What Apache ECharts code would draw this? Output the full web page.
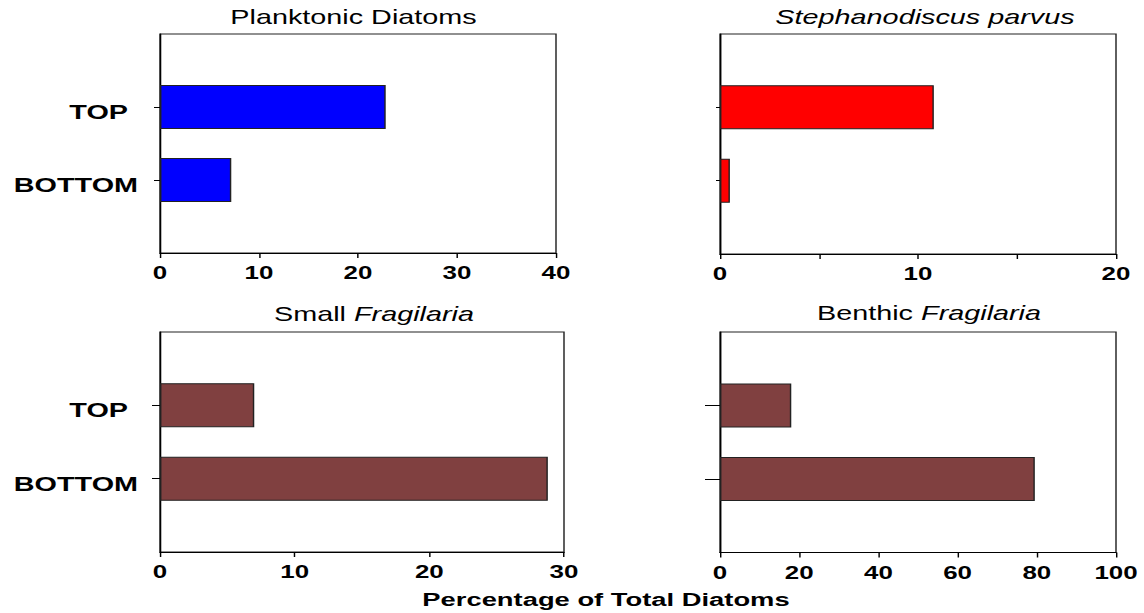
<!DOCTYPE html>
<html><head><meta charset="utf-8">
<script src="https://cdn.jsdelivr.net/npm/echarts@6/dist/echarts.min.js"></script>
<style>
html,body{margin:0;padding:0;background:#fff;overflow:hidden;}
#wrap{width:1144px;height:613px;overflow:hidden;}
#chart{width:794.44px;height:613px;transform:scaleX(1.44);transform-origin:0 0;}
</style></head><body><div id="wrap"><div id="chart"></div></div>
<script>
// ---- data ----
const categories = ['TOP', 'BOTTOM'];
const planktonic = [22.8, 7.2];
const stephanodiscus = [10.8, 0.5];
const smallFragilaria = [7.0, 28.8];
const benthicFragilaria = [18.0, 79.5];

const planktonicTicks = [0, 10, 20, 30, 40];
const stephanodiscusTicks = [0, 10, 20];
const smallFragilariaTicks = [0, 10, 20, 30];
const benthicFragilariaTicks = [0, 20, 40, 60, 80, 100];

const titles = [
  {n: 'Planktonic Diatoms', i: ''},
  {n: '', i: 'Stephanodiscus parvus'},
  {n: 'Small ', i: 'Fragilaria'},
  {n: 'Benthic ', i: 'Fragilaria'}
];
const xAxisTitle = 'Percentage of Total Diatoms';

// ---- layout (page is stretched horizontally by S) ----
const S = 1.44;
const sx = v => v / S;
const FONT = '"Liberation Sans", Arial, sans-serif';

const panels = [
  {vals: planktonic, ticks: planktonicTicks, minor: 10, color: '#0000ff', grid: [160, 34, 396, 219], tick: 6, labels: true, title: [353.5, 7]},
  {vals: stephanodiscus, ticks: stephanodiscusTicks, minor: 5, color: '#ff0000', grid: [720, 34, 396, 220], tick: 4, labels: false, title: [925, 7]},
  {vals: smallFragilaria, ticks: smallFragilariaTicks, minor: 10, color: '#804040', grid: [160, 332, 404, 220], tick: 8, labels: true, title: [374, 304]},
  {vals: benthicFragilaria, ticks: benthicFragilariaTicks, minor: 20, color: '#804040', grid: [720, 332, 396, 220.5], tick: 15, labels: false, title: [929, 303]}
];

const yData = [''].concat(categories).concat([' ']);

const grid = [], xAxis = [], yAxis = [], series = [], title = [];
panels.forEach((p, k) => {
  grid.push({left: sx(p.grid[0]), top: p.grid[1], width: sx(p.grid[2]), height: p.grid[3],
    show: true, borderColor: '#222', borderWidth: 1, containLabel: false});
  xAxis.push({type: 'value', gridIndex: k, min: p.ticks[0], max: p.ticks[p.ticks.length - 1], interval: p.minor,
    splitLine: {show: false},
    axisLine: {show: true, lineStyle: {color: '#000', width: 1}},
    axisTick: {show: true, length: 5, lineStyle: {color: '#000'}},
    axisLabel: {show: true, margin: 11, fontSize: 18, fontWeight: 'bold', color: '#000', fontFamily: FONT,
      formatter: v => p.ticks.indexOf(v) >= 0 ? String(v) : ''}
  });
  yAxis.push({type: 'category', gridIndex: k, data: yData, inverse: true, boundaryGap: false,
    axisLine: {show: true, onZero: false, lineStyle: {color: '#000', width: 1}},
    axisTick: {show: true, length: sx(p.tick), interval: (i) => i >= 1 && i <= categories.length, lineStyle: {color: '#000'}},
    splitLine: {show: false},
    axisLabel: {show: p.labels, interval: 0, margin: sx(22), color: '#000',
      formatter: (v) => {
        if (v === 'TOP') return '{t|TOP}';
        if (v === 'BOTTOM') return '{b|BOTTOM}';
        return '';
      },
      rich: {
        t: {fontSize: 20, fontWeight: 'bold', fontFamily: FONT, color: '#000', padding: [10, sx(10), 0, 0]},
        b: {fontSize: 20, fontWeight: 'bold', fontFamily: FONT, color: '#000', padding: [10, 0, 0, 0]}
      }
    }
  });
  series.push({type: 'bar', xAxisIndex: k, yAxisIndex: k, barWidth: 44,
    data: [null].concat(p.vals).concat([null]),
    itemStyle: {color: p.color, borderColor: '#222', borderWidth: 1},
    animation: false});
  const t = titles[k];
  let txt = '';
  if (t.n) txt += '{n|' + t.n + '}';
  if (t.i) txt += '{i|' + t.i + '}';
  title.push({text: txt, left: sx(p.title[0]), top: p.title[1], textAlign: 'center', padding: 0,
    textStyle: {rich: {
      n: {fontSize: 20, fontWeight: 'normal', fontFamily: FONT, color: '#000', lineHeight: 20},
      i: {fontSize: 20, fontWeight: 'normal', fontStyle: 'italic', fontFamily: FONT, color: '#000', lineHeight: 20}
    }}});
});
title.push({text: xAxisTitle, left: sx(606), top: 590, textAlign: 'center', padding: 0,
  textStyle: {fontSize: 19, fontWeight: 'bold', fontFamily: FONT, color: '#000', lineHeight: 19}});

const chart = echarts.init(document.getElementById('chart'), null, {renderer: 'svg'});
chart.setOption({animation: false, backgroundColor: '#fff', title, grid, xAxis, yAxis, series});
</script></body></html>
